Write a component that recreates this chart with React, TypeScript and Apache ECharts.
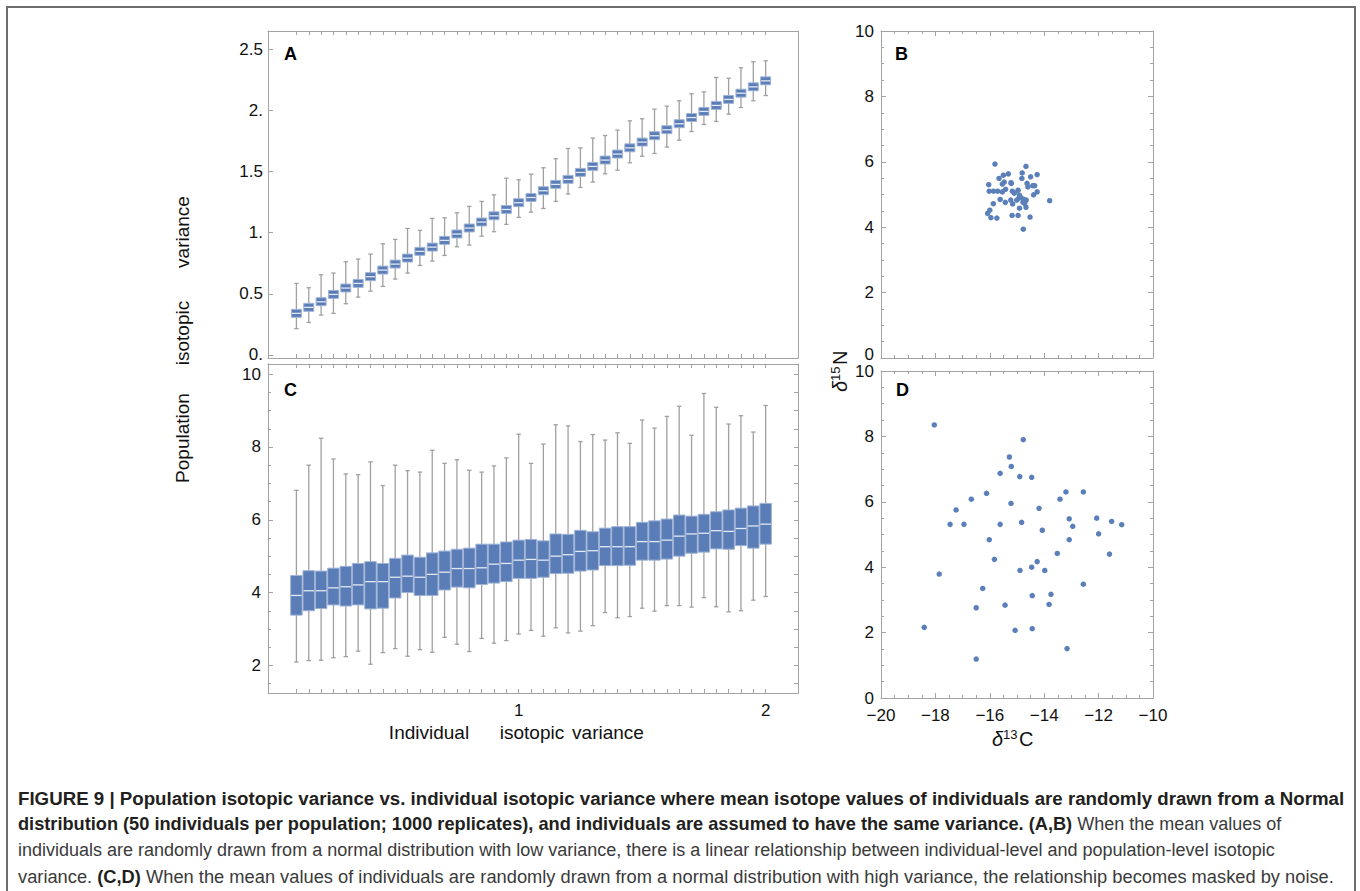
import React, { useEffect, useRef } from 'react';
import * as echarts from 'echarts';

// ---------- DATA ----------
const boxX = [0.1, 0.15, 0.2, 0.25, 0.3, 0.35, 0.4, 0.45, 0.5, 0.55, 0.6, 0.65, 0.7, 0.75, 0.8, 0.85, 0.9, 0.95, 1.0,
  1.05, 1.1, 1.15, 1.2, 1.25, 1.3, 1.35, 1.4, 1.45, 1.5, 1.55, 1.6, 1.65, 1.7, 1.75, 1.8, 1.85, 1.9, 1.95, 2.0];

// Panel A (low-variance means)
const aLow = [0.215, 0.266, 0.326, 0.340, 0.419, 0.473, 0.522, 0.561, 0.621, 0.670, 0.732, 0.768, 0.814, 0.885, 0.899, 0.972, 1.008, 1.068, 1.125, 1.168, 1.198, 1.256, 1.316, 1.370, 1.414, 1.482, 1.512, 1.572, 1.626, 1.648, 1.700, 1.757, 1.828, 1.885, 1.910, 1.970, 2.024, 2.079, 2.122];
const aQ1 = [0.308, 0.357, 0.403, 0.463, 0.515, 0.553, 0.608, 0.662, 0.711, 0.760, 0.815, 0.850, 0.905, 0.957, 1.006, 1.055, 1.106, 1.158, 1.213, 1.256, 1.311, 1.363, 1.404, 1.461, 1.510, 1.562, 1.611, 1.662, 1.709, 1.761, 1.810, 1.859, 1.910, 1.960, 2.009, 2.058, 2.109, 2.161, 2.210];
const aMed = [0.340, 0.389, 0.435, 0.495, 0.547, 0.585, 0.640, 0.694, 0.743, 0.792, 0.847, 0.882, 0.937, 0.989, 1.038, 1.087, 1.138, 1.190, 1.245, 1.288, 1.343, 1.395, 1.436, 1.493, 1.542, 1.594, 1.643, 1.694, 1.741, 1.793, 1.842, 1.891, 1.942, 1.992, 2.041, 2.090, 2.141, 2.193, 2.242];
const aQ3 = [0.373, 0.422, 0.468, 0.528, 0.580, 0.618, 0.673, 0.727, 0.776, 0.825, 0.880, 0.915, 0.970, 1.022, 1.071, 1.120, 1.171, 1.223, 1.278, 1.321, 1.376, 1.428, 1.469, 1.526, 1.575, 1.627, 1.676, 1.727, 1.774, 1.826, 1.875, 1.924, 1.975, 2.025, 2.074, 2.123, 2.174, 2.226, 2.275];
const aHigh = [0.585, 0.550, 0.656, 0.670, 0.762, 0.784, 0.825, 0.909, 0.945, 1.035, 1.019, 1.117, 1.122, 1.163, 1.215, 1.256, 1.310, 1.446, 1.433, 1.479, 1.531, 1.605, 1.689, 1.694, 1.774, 1.795, 1.839, 1.915, 1.932, 2.011, 2.035, 2.079, 2.136, 2.152, 2.270, 2.264, 2.349, 2.398, 2.406];

// Panel C (high-variance means)
const cLow = [2.09, 2.13, 2.14, 2.21, 2.24, 2.39, 2.03, 2.35, 2.46, 2.25, 2.43, 2.36, 2.77, 2.58, 2.38, 2.74, 2.61, 2.68, 2.86, 2.96, 2.80, 3.03, 2.89, 2.94, 3.09, 3.45, 3.31, 3.34, 3.57, 3.49, 3.64, 3.64, 3.60, 3.86, 3.61, 3.47, 3.50, 3.79, 3.89];
const cQ1 = [3.38, 3.50, 3.56, 3.66, 3.63, 3.66, 3.55, 3.57, 3.85, 4.00, 3.92, 3.92, 4.07, 4.15, 4.13, 4.22, 4.26, 4.30, 4.39, 4.39, 4.42, 4.52, 4.53, 4.59, 4.62, 4.74, 4.74, 4.75, 4.89, 4.89, 4.92, 5.00, 5.08, 5.11, 5.20, 5.19, 5.29, 5.22, 5.33];
const cMed = [3.92, 4.05, 4.05, 4.13, 4.16, 4.21, 4.30, 4.30, 4.42, 4.45, 4.42, 4.50, 4.56, 4.66, 4.66, 4.68, 4.78, 4.80, 4.89, 4.91, 4.89, 5.00, 5.04, 5.13, 5.15, 5.26, 5.26, 5.26, 5.40, 5.40, 5.44, 5.55, 5.61, 5.63, 5.70, 5.68, 5.76, 5.83, 5.88];
const cQ3 = [4.47, 4.60, 4.59, 4.67, 4.72, 4.80, 4.85, 4.80, 4.94, 5.03, 4.97, 5.09, 5.14, 5.19, 5.22, 5.33, 5.33, 5.39, 5.44, 5.46, 5.42, 5.61, 5.60, 5.71, 5.67, 5.77, 5.81, 5.81, 5.93, 5.97, 6.02, 6.13, 6.10, 6.15, 6.22, 6.27, 6.32, 6.38, 6.45];
const cHigh = [6.81, 7.50, 8.24, 7.67, 7.26, 7.24, 7.59, 6.94, 7.50, 7.35, 7.31, 7.91, 7.55, 7.65, 7.36, 7.31, 7.48, 7.70, 8.35, 7.55, 8.08, 8.61, 8.58, 8.15, 8.34, 8.19, 8.39, 8.10, 8.74, 8.52, 8.84, 9.12, 8.32, 9.47, 9.09, 8.63, 8.86, 8.41, 9.14];

// Panel B scatter (delta13C, delta15N)
const bPoints = [
  [-15.81, 5.93], [-14.67, 5.86], [-14.81, 5.66], [-14.26, 5.61], [-14.50, 5.54], [-15.50, 5.59], [-15.32, 5.63],
  [-15.66, 5.49], [-14.82, 5.49], [-15.22, 5.36], [-15.47, 5.38], [-15.54, 5.32], [-16.04, 5.30], [-14.63, 5.34],
  [-14.60, 5.23], [-14.42, 5.27], [-14.35, 5.27], [-15.21, 5.34], [-16.02, 5.10], [-15.86, 5.10], [-15.71, 5.10],
  [-15.54, 5.08], [-15.42, 5.16], [-15.17, 5.10], [-15.10, 5.04], [-14.96, 5.13], [-14.26, 5.08], [-14.39, 4.99],
  [-14.91, 4.98], [-14.88, 4.93], [-15.23, 4.83], [-15.62, 4.85], [-15.43, 4.76], [-15.16, 4.71], [-15.01, 4.83],
  [-14.94, 4.88], [-14.77, 4.86], [-14.66, 4.83], [-14.78, 4.76], [-14.72, 4.73], [-15.87, 4.72], [-13.80, 4.81],
  [-14.91, 4.58], [-14.67, 4.61], [-16.00, 4.52], [-16.08, 4.42], [-15.96, 4.29], [-15.74, 4.28], [-15.18, 4.36],
  [-14.96, 4.36], [-14.52, 4.31], [-14.77, 3.94],
];

// Panel D scatter
const dPoints = [
  [-18.04, 8.35], [-18.41, 2.16], [-17.86, 3.79], [-17.46, 5.31], [-17.24, 5.75], [-16.95, 5.31], [-16.68, 6.08],
  [-16.50, 2.76], [-16.50, 1.19], [-16.26, 3.35], [-16.12, 6.26], [-16.02, 4.84], [-15.83, 4.24], [-15.62, 6.87],
  [-15.62, 5.31], [-15.44, 2.84], [-15.28, 7.37], [-15.21, 7.08], [-15.22, 5.95], [-15.07, 2.07], [-14.90, 6.77],
  [-14.83, 5.37], [-14.77, 7.90], [-14.89, 3.90], [-14.46, 6.75], [-14.46, 4.00], [-14.44, 3.13], [-14.44, 2.12],
  [-14.26, 4.17], [-14.19, 5.80], [-14.07, 5.13], [-13.98, 3.90], [-13.82, 2.86], [-13.75, 3.17], [-13.52, 4.42],
  [-13.42, 6.08], [-13.20, 6.30], [-13.16, 1.51], [-13.08, 5.48], [-13.08, 4.84], [-12.56, 6.30], [-12.95, 5.25],
  [-12.07, 5.50], [-11.52, 5.40], [-11.15, 5.30], [-12.00, 5.02], [-11.60, 4.40], [-12.56, 3.48],
];

const aYTicks = [0, 0.5, 1, 1.5, 2, 2.5];
const cYMajor = [2, 4, 6, 8, 10];
const cYMinor = [1.5, 2, 2.5, 3, 3.5, 4, 4.5, 5, 5.5, 6, 6.5, 7, 7.5, 8, 8.5, 9, 9.5, 10];
const boxXLabels = [1, 2];

// ---------- STYLE ----------
const FONT = 'Liberation Sans';
const FRAME = '#a3a3a3';
const WHISK = '#a0a0a0';
const BOX = '#5a7db7';
const BOX_EDGE = '#9fb3d6';
const MED = '#e3e9f3';
const DOT = '#5b80b9';

const labelStyle = { color: '#111', fontSize: 17, fontFamily: FONT };

function boxRender(bw: number, cap: number) {
  return (params: any, api: any) => {
    const x = api.value(0);
    const lo = api.coord([x, api.value(1)]);
    const q1 = api.coord([x, api.value(2)]);
    const md = api.coord([x, api.value(3)]);
    const q3 = api.coord([x, api.value(4)]);
    const hi = api.coord([x, api.value(5)]);
    const cx = md[0];
    const ws = { stroke: WHISK, lineWidth: 1.3 };
    return {
      type: 'group',
      children: [
        { type: 'line', shape: { x1: cx, y1: lo[1], x2: cx, y2: hi[1] }, style: ws },
        { type: 'line', shape: { x1: cx - cap, y1: lo[1], x2: cx + cap, y2: lo[1] }, style: ws },
        { type: 'line', shape: { x1: cx - cap, y1: hi[1], x2: cx + cap, y2: hi[1] }, style: ws },
        { type: 'rect', shape: { x: cx - bw / 2, y: q3[1], width: bw, height: q1[1] - q3[1] }, style: { fill: BOX, stroke: BOX_EDGE, lineWidth: 1 } },
        { type: 'line', shape: { x1: cx - bw / 2 + 0.5, y1: md[1], x2: cx + bw / 2 - 0.5, y2: md[1] }, style: { stroke: MED, lineWidth: 1.3 } },
      ],
    };
  };
}

function frameAxis(extra: any) {
  return {
    type: 'value',
    axisLine: { show: true, onZero: false, lineStyle: { color: FRAME, width: 1 } },
    splitLine: { show: false },
    axisTick: { show: false },
    axisLabel: { show: false },
    ...extra,
  };
}

const tickStyle = { color: FRAME, width: 1 };
const minus = (v: number) => (v < 0 ? '\u2212' + Math.abs(v) : String(v));

function deltaLabel(x: number, y: number, num: string, letter: string, rotation = 0) {
  return {
    type: 'group', x, y, rotation,
    children: [
      { type: 'text', x: 0, y: 0, style: { text: '\u03b4', font: `italic 20px "${FONT}"`, fill: '#111', textVerticalAlign: 'bottom' } },
      { type: 'text', x: 11, y: -8, style: { text: num, font: `13px "${FONT}"`, fill: '#111', textVerticalAlign: 'bottom' } },
      { type: 'text', x: 27, y: 0, style: { text: letter, font: `20px "${FONT}"`, fill: '#111', textVerticalAlign: 'bottom' } },
    ],
  };
}

const BOLD_FILL = '#231f20';
const NORM_FILL = '#3a3a3a';
const rich: Record<string, any> = {
  b1: { fontFamily: FONT, fontWeight: 'bold', fontSize: 18.7, fill: BOLD_FILL },
  b2: { fontFamily: FONT, fontWeight: 'bold', fontSize: 18.2, fill: BOLD_FILL },
  n2: { fontFamily: FONT, fontSize: 18, fill: NORM_FILL },
  n3: { fontFamily: FONT, fontSize: 18, fill: NORM_FILL },
  n4: { fontFamily: FONT, fontSize: 18.3, fill: NORM_FILL },
  b4: { fontFamily: FONT, fontWeight: 'bold', fontSize: 18.3, fill: BOLD_FILL },
};
const captionLines = [
  [['b1', 'FIGURE 9 | Population isotopic variance vs. individual isotopic variance where mean isotope values of individuals are randomly drawn from a Normal']],
  [['b2', 'distribution (50 individuals per population; 1000 replicates), and individuals are assumed to have the same variance. (A,B)'], ['n2', ' When the mean values of']],
  [['n3', 'individuals are randomly drawn from a normal distribution with low variance, there is a linear relationship between individual-level and population-level isotopic']],
  [['n4', 'variance. '], ['b4', '(C,D)'], ['n4', ' When the mean values of individuals are randomly drawn from a normal distribution with high variance, the relationship becomes masked by noise.']],
];

export default function App() {
  const ref = useRef<HTMLDivElement>(null);
  useEffect(() => {
    if (!ref.current) return;
    const chart = echarts.init(ref.current, null, { renderer: 'svg' });

    const aData = boxX.map((x, i) => [x, aLow[i], aQ1[i], aMed[i], aQ3[i], aHigh[i]]);
    const cData = boxX.map((x, i) => [x, cLow[i], cQ1[i], cMed[i], cQ3[i], cHigh[i]]);

    const boxXAxis = (grid: number, pos: string, labels: boolean) => frameAxis({
      gridIndex: grid, position: pos, min: -0.015, max: 2.131,
      axisTick: { show: true, inside: true, length: 4, customValues: boxX, lineStyle: tickStyle },
      axisLabel: labels ? { show: true, ...labelStyle, margin: 9, customValues: boxXLabels } : { show: false },
    });
    const scatterXAxis = (grid: number, pos: string, labels: boolean) => frameAxis({
      gridIndex: grid, position: pos, min: -20, max: -10, interval: 2,
      axisTick: { show: true, inside: true, length: 5, lineStyle: tickStyle },
      minorTick: { show: true, splitNumber: 4, length: 3, lineStyle: tickStyle },
      axisLabel: labels ? { show: true, ...labelStyle, margin: 9, formatter: minus } : { show: false },
    });
    const scatterYAxis = (grid: number, pos: string, labels: boolean, liftZero = false) => frameAxis({
      gridIndex: grid, position: pos, min: 0, max: 10, interval: 2,
      axisTick: { show: true, inside: true, length: 5, lineStyle: tickStyle },
      minorTick: { show: true, splitNumber: 4, length: 3, lineStyle: tickStyle },
      axisLabel: labels
        ? {
          show: true, ...labelStyle, margin: 7,
          formatter: liftZero ? (v: number) => (v === 0 ? '{z|0}' : String(v)) : undefined,
          rich: { z: { fontSize: 17, fontFamily: FONT, color: '#111', padding: [0, 0, 8, 0] } },
        }
        : { show: false },
    });

    const graphic: any[] = [
      { type: 'polyline', shape: { points: [[7, 891], [7, 7], [1355, 7], [1355, 891]] }, style: { stroke: '#6e6e6e', lineWidth: 2, fill: 'none' } },
      { type: 'text', left: 284, top: 45, style: { text: 'A', font: `bold 18px "${FONT}"`, fill: '#000' } },
      { type: 'text', left: 895, top: 45, style: { text: 'B', font: `bold 18px "${FONT}"`, fill: '#000' } },
      { type: 'text', left: 284, top: 381, style: { text: 'C', font: `bold 18px "${FONT}"`, fill: '#000' } },
      { type: 'text', left: 896, top: 381, style: { text: 'D', font: `bold 18px "${FONT}"`, fill: '#000' } },
      // y title (rotated)
      { type: 'text', x: 182, y: 438, rotation: Math.PI / 2, style: { text: 'Population', font: `19px "${FONT}"`, fill: '#111', textAlign: 'center', textVerticalAlign: 'middle' } },
      { type: 'text', x: 182, y: 333, rotation: Math.PI / 2, style: { text: 'isotopic', font: `19px "${FONT}"`, fill: '#111', textAlign: 'center', textVerticalAlign: 'middle' } },
      { type: 'text', x: 182, y: 232, rotation: Math.PI / 2, style: { text: 'variance', font: `19px "${FONT}"`, fill: '#111', textAlign: 'center', textVerticalAlign: 'middle' } },
      // x title
      { type: 'text', x: 429, y: 732, style: { text: 'Individual', font: `19px "${FONT}"`, fill: '#111', textAlign: 'center', textVerticalAlign: 'middle' } },
      { type: 'text', x: 532, y: 732, style: { text: 'isotopic', font: `19px "${FONT}"`, fill: '#111', textAlign: 'center', textVerticalAlign: 'middle' } },
      { type: 'text', x: 608, y: 732, style: { text: 'variance', font: `19px "${FONT}"`, fill: '#111', textAlign: 'center', textVerticalAlign: 'middle' } },
      deltaLabel(992, 749, '13', 'C'),
      deltaLabel(850, 392, '15', 'N', Math.PI / 2),
    ];

    captionLines.forEach((segs, li) => {
      const text = segs.map(([k, s]) => `{${k}|${s}}`).join('');
      graphic.push({
        type: 'text', x: 18, y: 798 + li * 26,
        style: { text, rich, textVerticalAlign: 'middle', font: `18px "${FONT}"` },
      });
    });

    chart.setOption({
      animation: false,
      backgroundColor: '#fff',
      grid: [
        { left: 268, top: 31, width: 530, height: 327 },
        { left: 268, top: 364, width: 530, height: 329 },
        { left: 881, top: 31, width: 272, height: 327 },
        { left: 881, top: 371, width: 272, height: 327 },
      ],
      xAxis: [
        boxXAxis(0, 'bottom', false),
        boxXAxis(0, 'top', false),
        boxXAxis(1, 'bottom', true),
        boxXAxis(1, 'top', false),
        scatterXAxis(2, 'bottom', false),
        scatterXAxis(2, 'top', false),
        scatterXAxis(3, 'bottom', true),
        scatterXAxis(3, 'top', false),
      ],
      yAxis: [
        frameAxis({
          gridIndex: 0, position: 'left', min: -0.025, max: 2.65,
          axisTick: { show: true, inside: true, length: 5, customValues: aYTicks, lineStyle: tickStyle },
          axisLabel: { show: true, ...labelStyle, margin: 5, customValues: aYTicks, formatter: (v: number) => (Number.isInteger(v) ? v + '.' : String(v)) },
        }),
        frameAxis({ gridIndex: 0, position: 'right', min: -0.025, max: 2.65 }),
        frameAxis({
          gridIndex: 1, position: 'left', min: 1.24, max: 10.28,
          axisTick: { show: true, inside: true, length: 5, customValues: cYMajor, lineStyle: tickStyle },
          axisLabel: { show: true, ...labelStyle, margin: 7, customValues: cYMajor },
        }),
        frameAxis({
          gridIndex: 1, position: 'left', min: 1.24, max: 10.28,
          axisTick: { show: true, inside: true, length: 3, customValues: cYMinor, lineStyle: tickStyle },
        }),
        frameAxis({
          gridIndex: 1, position: 'right', min: 1.24, max: 10.28,
          axisTick: { show: true, inside: true, length: 4, customValues: cYMinor, lineStyle: tickStyle },
        }),
        scatterYAxis(2, 'left', true, true),
        scatterYAxis(2, 'right', false),
        scatterYAxis(3, 'left', true),
        scatterYAxis(3, 'right', false),
      ],
      series: [
        { type: 'custom', xAxisIndex: 0, yAxisIndex: 0, data: aData, encode: { x: 0, y: [1, 2, 3, 4, 5] }, renderItem: boxRender(10, 2.2), silent: true },
        { type: 'custom', xAxisIndex: 2, yAxisIndex: 2, data: cData, encode: { x: 0, y: [1, 2, 3, 4, 5] }, renderItem: boxRender(11.5, 2.2), silent: true },
        { type: 'scatter', xAxisIndex: 4, yAxisIndex: 5, data: bPoints, symbolSize: 5.5, itemStyle: { color: DOT, opacity: 1 }, silent: true },
        { type: 'scatter', xAxisIndex: 6, yAxisIndex: 7, data: dPoints, symbolSize: 5.5, itemStyle: { color: DOT, opacity: 1 }, silent: true },
      ],
      graphic,
    });
    return () => chart.dispose();
  }, []);
  return <div ref={ref} style={{ position: 'absolute', left: 0, top: 0, width: 1360, height: 891, background: '#fff' }} />;
}
